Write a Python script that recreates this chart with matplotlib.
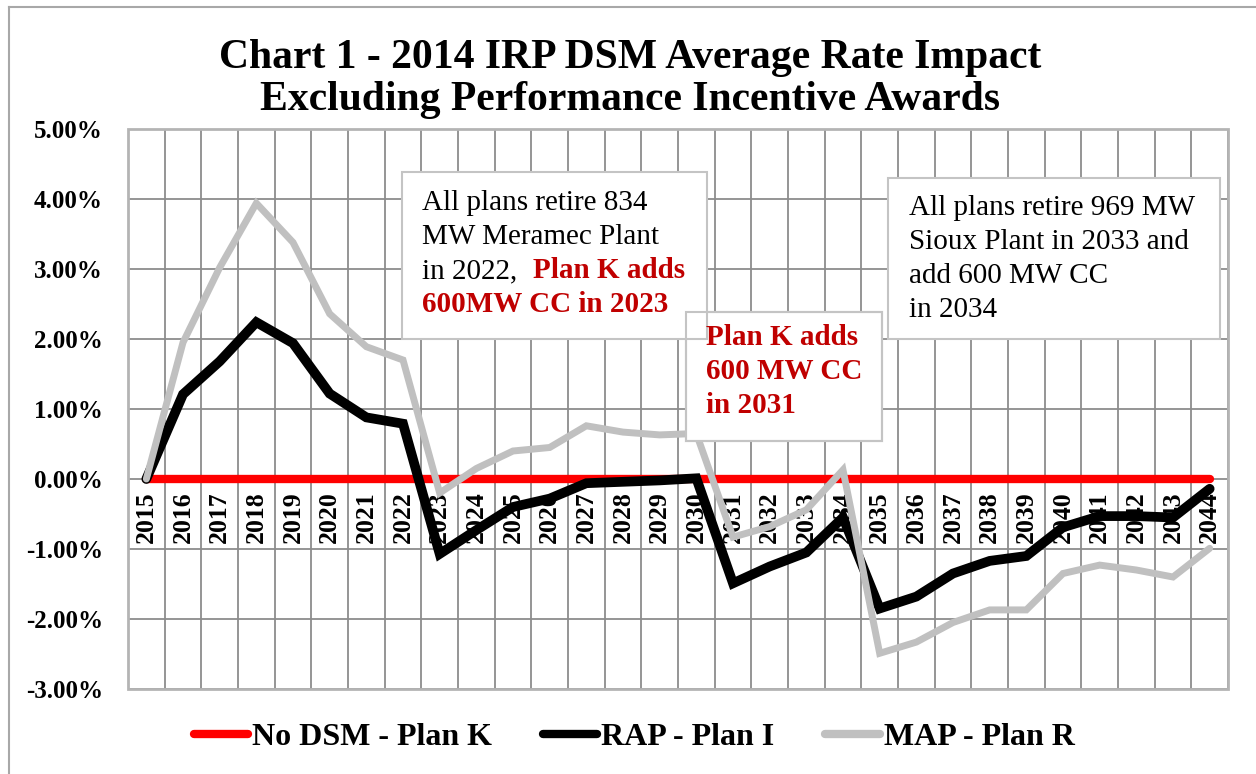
import numpy as np
import matplotlib
matplotlib.use("Agg")
import matplotlib.pyplot as plt
from matplotlib.patches import Rectangle
from matplotlib.lines import Line2D

plt.rcParams['font.family'] = ['Liberation Serif', 'DejaVu Serif']

# ---------------- data ----------------
years = [str(y) for y in range(2015, 2045)]
no_dsm_plan_k = [0.00, 0.00, 0.00, 0.00, 0.00, 0.00, 0.00, 0.00, 0.00, 0.00,
                 0.00, 0.00, 0.00, 0.00, 0.00, 0.00, 0.00, 0.00, 0.00, 0.00,
                 0.00, 0.00, 0.00, 0.00, 0.00, 0.00, 0.00, 0.00, 0.00, 0.00]
rap_plan_i = [0.00, 1.21, 1.68, 2.24, 1.94, 1.22, 0.88, 0.79, -1.07, -0.73,
              -0.40, -0.28, -0.06, -0.04, -0.02, 0.01, -1.49, -1.25, -1.05, -0.55,
              -1.85, -1.68, -1.35, -1.17, -1.10, -0.69, -0.53, -0.53, -0.55, -0.14]
map_plan_r = [0.00, 1.95, 3.02, 3.94, 3.38, 2.36, 1.89, 1.70, -0.20, 0.15,
              0.40, 0.45, 0.76, 0.67, 0.63, 0.65, -0.83, -0.68, -0.44, 0.13,
              -2.49, -2.33, -2.05, -1.87, -1.87, -1.35, -1.23, -1.30, -1.40, -0.99]
series_labels = ["No DSM - Plan K", "RAP - Plan I", "MAP - Plan R"]
y_ticks = [-3, -2, -1, 0, 1, 2, 3, 4, 5]
title = "Chart 1 - 2014 IRP DSM Average Rate Impact\nExcluding Performance Incentive Awards"

# ---------------- figure ----------------
W, H = 1256, 774
fig = plt.figure(figsize=(W / 100, H / 100), dpi=100)
fig.patch.set_facecolor('white')

def fx(x):
    return x / W

def fy(y):
    return 1 - y / H

ax = fig.add_axes([fx(128), fy(689), fx(1228) - fx(128), fy(129) - fy(689)])
# category axis crosses at 0 (this resets ticks, so do it first)
ax.spines['bottom'].set_position(('data', 0))
for s in ax.spines.values():
    s.set_visible(False)

x = np.arange(len(years))

RED, BLACK, GRAY = '#ff0000', '#000000', '#c0c0c0'
ax.plot(x, no_dsm_plan_k, color=RED, lw=6.0, solid_capstyle='round', zorder=3)
ax.plot(x, rap_plan_i, color=BLACK, lw=7.0, solid_capstyle='round',
        solid_joinstyle='miter', zorder=4)
ax.plot(x, map_plan_r, color=GRAY, lw=5.0, solid_capstyle='round',
        solid_joinstyle='miter', zorder=5)

ax.set_xlim(-0.5, len(years) - 0.5)
ax.set_ylim(-3, 5)
ax.set_yticks(y_ticks)
ax.set_yticklabels([f"{v:.2f}%" for v in y_ticks], fontsize=18, fontweight='bold')
ax.set_xticks(x)
ax.set_xticklabels(years, rotation=90, fontsize=18.5, fontweight='bold', va='top')
ax.set_xticks(np.arange(-0.5, len(years), 1), minor=True)
ax.tick_params(axis='both', which='both', length=0)
ax.tick_params(axis='y', pad=18)
ax.tick_params(axis='x', pad=9)
ax.grid(True, which='major', axis='y', color='#8c8c8c', lw=1.3)
ax.grid(True, which='minor', axis='x', color='#8c8c8c', lw=1.3)
ax.set_axisbelow(True)
ax.add_patch(Rectangle((0, 0), 1, 1, transform=ax.transAxes, fill=False,
                       ec='#b4b4b4', lw=2.0, clip_on=False, zorder=1))

# outer chart border (left & top visible)
fig.add_artist(Line2D([fx(9), fx(9)], [fy(7), 0], color='#a8a8a8', lw=1.5))
fig.add_artist(Line2D([fx(9), 1], [fy(7), fy(7)], color='#a8a8a8', lw=1.5))

# title
fig.text(fx(630), fy(79), title, ha='center', va='center', fontsize=30,
         fontweight='bold', linespacing=1.12)

# annotation boxes
BOXEC = '#c4c4c4'
DARKRED = '#c00000'
fig.add_artist(Rectangle((fx(686), fy(441)), fx(882) - fx(686), fy(312) - fy(441),
                         transform=fig.transFigure, fc='white', ec=BOXEC, lw=1.5, zorder=6))
fig.add_artist(Rectangle((fx(402), fy(339)), fx(707) - fx(402), fy(172) - fy(339),
                         transform=fig.transFigure, fc='white', ec=BOXEC, lw=1.5, zorder=7))
fig.add_artist(Rectangle((fx(686), fy(441)), fx(882) - fx(686), fy(312) - fy(441),
                         transform=fig.transFigure, fill=False, ec=BOXEC, lw=1.5, zorder=8))
fig.add_artist(Rectangle((fx(888), fy(339)), fx(1220) - fx(888), fy(178) - fy(339),
                         transform=fig.transFigure, fc='white', ec=BOXEC, lw=1.5, zorder=7))

tk = dict(fontsize=21, va='baseline', ha='left', zorder=9)
# box 1
fig.text(fx(422), fy(210), "All plans retire 834", **tk)
fig.text(fx(422), fy(244), "MW Meramec Plant", **tk)
fig.text(fx(422), fy(278), "in 2022,", **tk)
fig.text(fx(533), fy(278), "Plan K adds", color=DARKRED, fontweight='bold', **tk)
fig.text(fx(422), fy(312), "600MW CC in 2023", color=DARKRED, fontweight='bold', **tk)
# box 2
fig.text(fx(706), fy(345), "Plan K adds", color=DARKRED, fontweight='bold', **tk)
fig.text(fx(706), fy(379), "600 MW CC", color=DARKRED, fontweight='bold', **tk)
fig.text(fx(706), fy(413), "in 2031", color=DARKRED, fontweight='bold', **tk)
# box 3
fig.text(fx(909), fy(215), "All plans retire 969 MW", **tk)
fig.text(fx(909), fy(249), "Sioux Plant in 2033 and", **tk)
fig.text(fx(909), fy(283), "add 600 MW CC", **tk)
fig.text(fx(909), fy(317), "in 2034", **tk)

# legend
handles = [Line2D([], [], color=RED, lw=6, solid_capstyle='round'),
           Line2D([], [], color=BLACK, lw=6, solid_capstyle='round'),
           Line2D([], [], color=GRAY, lw=6, solid_capstyle='round')]
fig.legend(handles, series_labels, loc='center', bbox_to_anchor=(fx(634), fy(737)),
           ncol=3, frameon=False, prop={'size': 23, 'weight': 'bold'},
           handlelength=1.7, handletextpad=0.12, columnspacing=1.6,
           borderaxespad=0, borderpad=0)

fig.savefig('out.png', dpi=100, facecolor='white')
